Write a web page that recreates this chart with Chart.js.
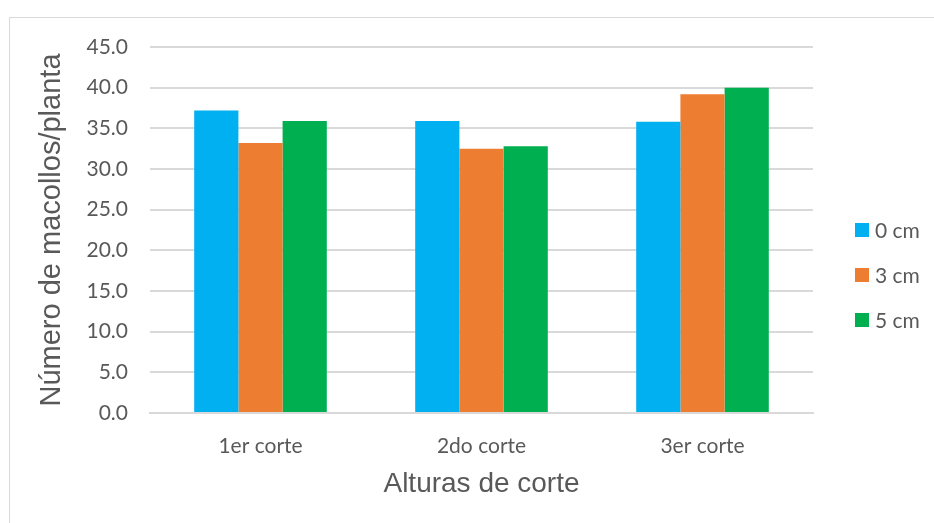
<!DOCTYPE html>
<html>
<head>
<meta charset="utf-8">
<script src="https://cdn.jsdelivr.net/npm/chart.js@4/dist/chart.umd.min.js"></script>
<style>
  html, body { margin: 0; padding: 0; background: #ffffff; }
  #wrap { position: relative; width: 934px; height: 523px; overflow: hidden; }
  #frame { position: absolute; left: 9px; top: 17px; width: 940px; height: 520px;
           border: 1px solid #d9d9d9; box-sizing: border-box; }
  canvas { position: absolute; left: 0; top: 0; }
</style>
</head>
<body>
<div id="wrap">
  <div id="frame"></div>
  <canvas id="chart" width="934" height="523"></canvas>
</div>
<script>
// Número de macollos por planta según altura de corte
const categories = ['1er corte', '2do corte', '3er corte'];
const seriesNames = ['0 cm', '3 cm', '5 cm'];
const values0cm = [37.2, 35.9, 35.8];
const values3cm = [33.2, 32.5, 39.2];
const values5cm = [35.9, 32.8, 40.0];
const yTicks = [0, 5, 10, 15, 20, 25, 30, 35, 40, 45];

const colors = ['#00B0F0', '#ED7D31', '#00B050'];
const textColor = '#595959';
const gridColor = '#d9d9d9';
const tickFont = { family: 'Lato, "Open Sans", sans-serif', size: 21 };
const xTitleFont = { family: '"Liberation Sans", Arial, sans-serif', size: 28 };
const yTitleFont = { family: '"Liberation Sans", Arial, sans-serif', size: 29 };

// Legend drawn to the right of the plot, stacked vertically
const sideLegend = {
  id: 'sideLegend',
  afterDraw(chart) {
    const ctx = chart.ctx;
    ctx.save();
    ctx.font = '21px Lato, "Open Sans", sans-serif';
    ctx.textBaseline = 'middle';
    ctx.textAlign = 'left';
    chart.data.datasets.forEach((ds, i) => {
      const cy = 230 + i * 45;
      ctx.fillStyle = ds.backgroundColor;
      ctx.fillRect(855, cy - 7, 14, 14);
      ctx.fillStyle = textColor;
      ctx.fillText(ds.label, 875, cy + 1);
    });
    ctx.restore();
  }
};

new Chart(document.getElementById('chart'), {
  type: 'bar',
  data: {
    labels: categories,
    datasets: [values0cm, values3cm, values5cm].map((vals, i) => ({
      label: seriesNames[i],
      data: vals,
      backgroundColor: colors[i],
      borderWidth: 0,
      categoryPercentage: 0.6,
      barPercentage: 1.0
    }))
  },
  options: {
    responsive: false,
    animation: false,
    layout: { padding: { top: 47, left: 31, right: 121, bottom: 18 } },
    plugins: {
      legend: { display: false },
      tooltip: { enabled: false }
    },
    scales: {
      x: {
        grid: { display: false, drawTicks: false },
        border: { display: true, color: gridColor, width: 2 },
        ticks: { color: textColor, font: tickFont, padding: 21, maxRotation: 0 },
        title: { display: true, text: 'Alturas de corte', color: textColor, font: xTitleFont,
                 padding: { top: 4, bottom: 4 } },
        afterFit(scale) { scale.height = 92; }
      },
      y: {
        min: 0,
        max: 45,
        afterBuildTicks(scale) { scale.ticks = yTicks.map(v => ({ value: v })); },
        grid: { color: gridColor, lineWidth: 2, drawTicks: false },
        border: { display: false },
        ticks: {
          color: textColor, font: tickFont, padding: 22,
          callback: v => Number(v).toFixed(1)
        },
        title: { display: true, text: 'Número de macollos/planta', color: textColor, font: yTitleFont,
                 padding: { top: 4, bottom: 4 } },
        afterFit(scale) { scale.width = 119; }
      }
    }
  },
  plugins: [sideLegend]
});
</script>
</body>
</html>
